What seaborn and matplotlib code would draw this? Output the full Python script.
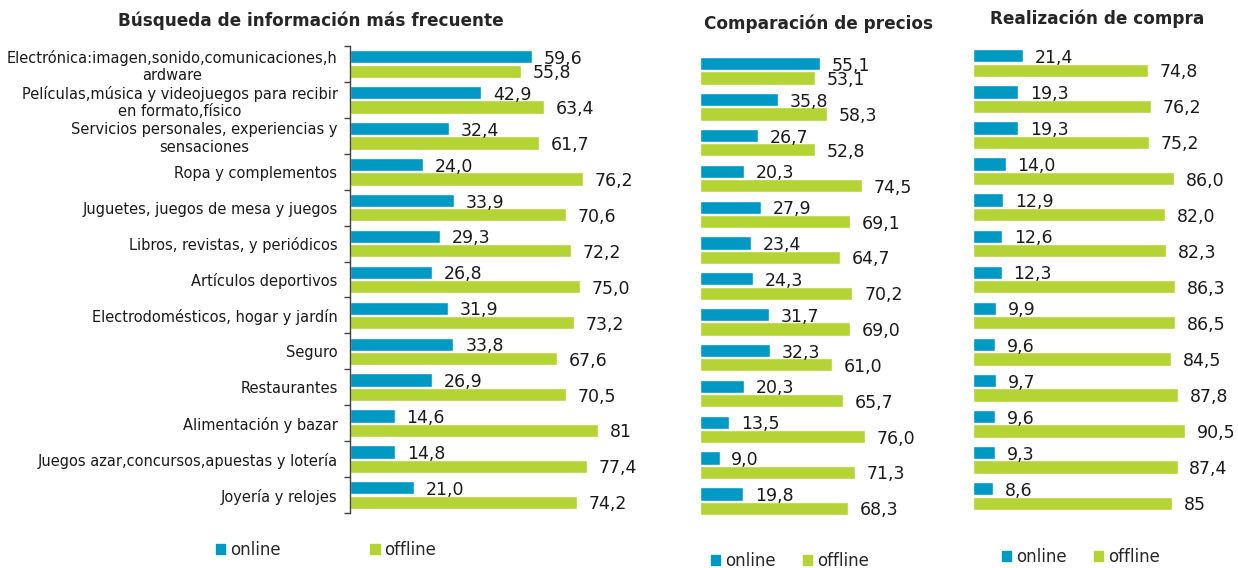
import matplotlib
matplotlib.use("Agg")
import matplotlib.pyplot as plt
from matplotlib.patches import Patch
import seaborn as sns
import pandas as pd

# Data (percentages)
categories = [
    "Electrónica:imagen,sonido,comunicaciones,h\nardware",
    "Películas,música y videojuegos para recibir\nen formato,físico",
    "Servicios personales, experiencias y\nsensaciones",
    "Ropa y complementos",
    "Juguetes, juegos de mesa y juegos",
    "Libros, revistas, y periódicos",
    "Artículos deportivos",
    "Electrodomésticos, hogar y jardín",
    "Seguro",
    "Restaurantes",
    "Alimentación y bazar",
    "Juegos azar,concursos,apuestas y lotería",
    "Joyería y relojes",
]
series_names = ["online", "offline"]

search_online = [59.6, 42.9, 32.4, 24.0, 33.9, 29.3, 26.8, 31.9, 33.8, 26.9, 14.6, 14.8, 21.0]
search_offline = [55.8, 63.4, 61.7, 76.2, 70.6, 72.2, 75.0, 73.2, 67.6, 70.5, 81, 77.4, 74.2]
prices_online = [55.1, 35.8, 26.7, 20.3, 27.9, 23.4, 24.3, 31.7, 32.3, 20.3, 13.5, 9.0, 19.8]
prices_offline = [53.1, 58.3, 52.8, 74.5, 69.1, 64.7, 70.2, 69.0, 61.0, 65.7, 76.0, 71.3, 68.3]
purchase_online = [21.4, 19.3, 19.3, 14.0, 12.9, 12.6, 12.3, 9.9, 9.6, 9.7, 9.6, 9.3, 8.6]
purchase_offline = [74.8, 76.2, 75.2, 86.0, 82.0, 82.3, 86.3, 86.5, 84.5, 87.8, 90.5, 87.4, 85]

titles = ["Búsqueda de información más frecuente", "Comparación de precios", "Realización de compra"]

BLUE = "#0099c4"
GREEN = "#b4d334"
W, H = 1238, 568


def fmt(v):
    # integers in the source are shown without decimals
    if isinstance(v, int):
        return str(v)
    return f"{v:.1f}".replace(".", ",")


def long_frame(online, offline):
    rows = []
    for cat, a, b in zip(categories, online, offline):
        rows.append({"categoria": cat, "canal": "online", "valor": a})
        rows.append({"categoria": cat, "canal": "offline", "valor": b})
    return pd.DataFrame(rows)


def px_rect(x0, y_top, width, y_bottom):
    return [x0 / W, 1 - y_bottom / H, width / W, (y_bottom - y_top) / H]


def draw_panel(ax, online, offline):
    df = long_frame(online, offline)
    sns.barplot(data=df, y="categoria", x="valor", hue="canal", order=categories,
                hue_order=series_names, palette=[BLUE, GREEN], orient="h",
                width=0.8, gap=0.08, legend=False, ax=ax, saturation=1)
    for container, vals in zip(ax.containers, [online, offline]):
        for patch, v in zip(container, vals):
            ax.annotate(fmt(v), (patch.get_width(), patch.get_y() + patch.get_height() / 2),
                        xytext=(8.5, -1.5), textcoords="offset points",
                        va="center", ha="left", fontsize=12.5, color="#1a1a1a")
    ax.set_xlim(0, 100)
    ax.set_ylim(len(categories) - 0.5, -0.5)
    ax.set_xlabel("")
    ax.set_ylabel("")
    ax.set_xticks([])
    for s in ax.spines.values():
        s.set_visible(False)


sns.set_style("white")
plt.rcParams["font.family"] = ["DejaVu Sans"]

fig = plt.figure(figsize=(W / 100, H / 100), dpi=100)
ax1 = fig.add_axes(px_rect(350, 46, 306, 513))
ax2 = fig.add_axes(px_rect(700, 53, 217, 519))
ax3 = fig.add_axes(px_rect(973, 45, 234, 514))

draw_panel(ax1, search_online, search_offline)
draw_panel(ax2, prices_online, prices_offline)
draw_panel(ax3, purchase_online, purchase_offline)

# left panel: category labels and spine with boundary ticks
ax1.spines["left"].set_visible(True)
ax1.spines["left"].set_color("#404040")
ax1.spines["left"].set_linewidth(1)
ax1.set_yticks(range(len(categories)))
ax1.set_yticklabels(categories, fontsize=10.5, color="#1a1a1a")
for lab in ax1.get_yticklabels():
    lab.set_multialignment("center")
ax1.set_yticks([i - 0.5 for i in range(len(categories) + 1)], minor=True)
ax1.tick_params(axis="y", which="major", length=0, pad=9)
ax1.tick_params(axis="y", which="minor", length=4, width=1, color="#404040", direction="out", left=True)

for ax in (ax2, ax3):
    ax.set_yticks([])

# titles
fig.text(311 / W, 1 - 21 / H, titles[0], ha="center", va="center", fontsize=12.2, fontweight="bold")
fig.text(818 / W, 1 - 24 / H, titles[1], ha="center", va="center", fontsize=12.2, fontweight="bold")
fig.text(1097 / W, 1 - 19 / H, titles[2], ha="center", va="center", fontsize=12.2, fontweight="bold")

# legends
handles = [Patch(color=BLUE, label="online"), Patch(color=GREEN, label="offline")]
legend_spots = [(326, 550, 5.4), (790, 561, 1.6), (1081, 557, 1.6)]
for x, y, spacing in legend_spots:
    fig.legend(handles=handles, loc="center", bbox_to_anchor=(x / W, 1 - y / H), ncol=2,
               frameon=False, fontsize=12, handlelength=0.55, handleheight=0.55,
               handletextpad=0.3, columnspacing=spacing)

fig.savefig("out.png", dpi=100)
